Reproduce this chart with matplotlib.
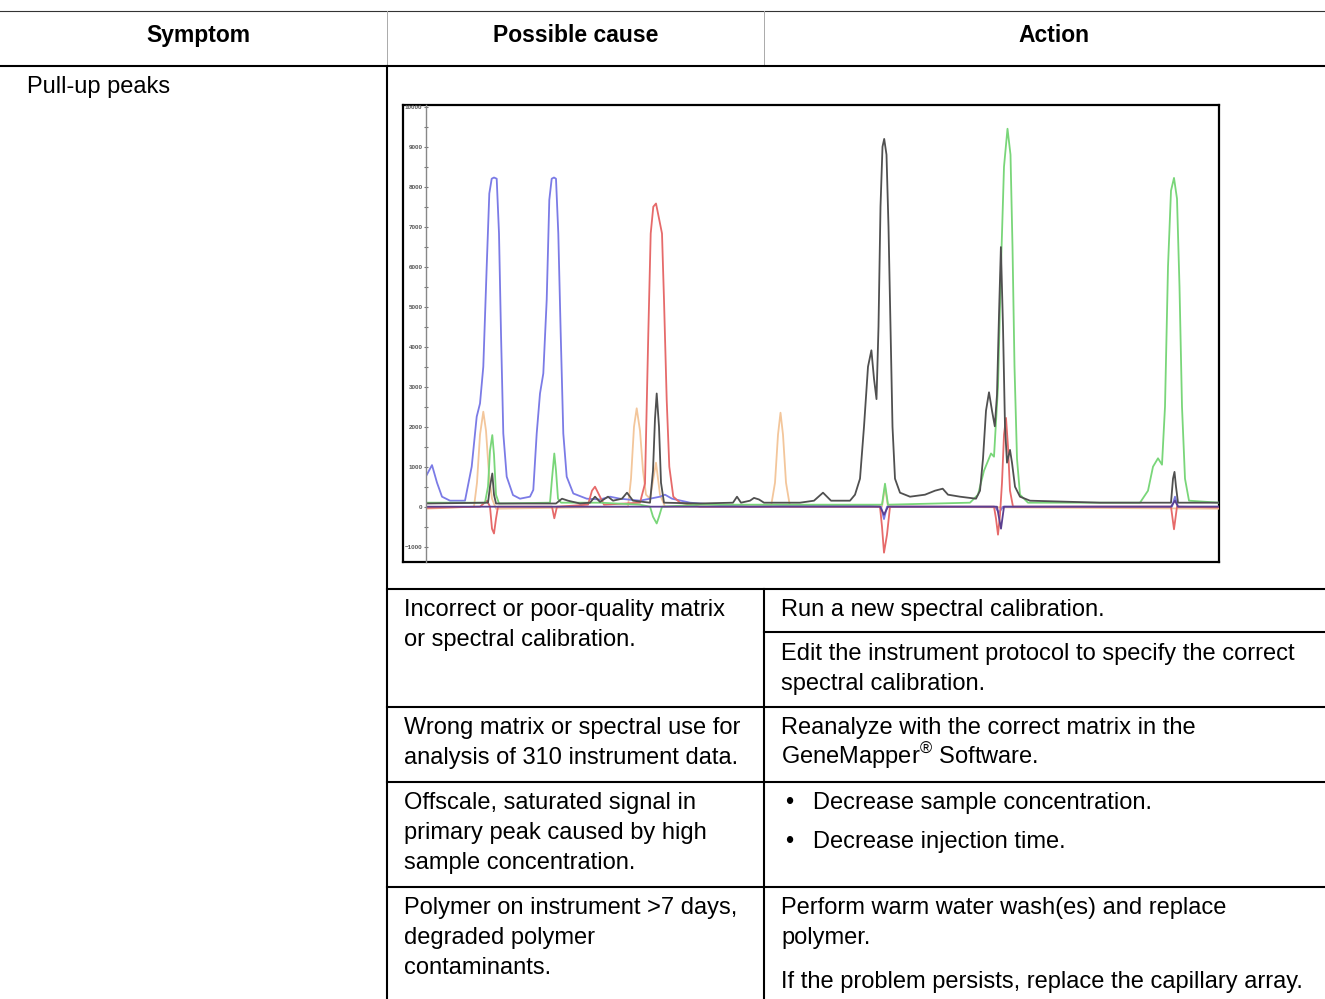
import numpy as np
import matplotlib
matplotlib.use("Agg")
import matplotlib.pyplot as plt
from matplotlib.ticker import MultipleLocator

plt.rcParams['font.family'] = ['Liberation Sans', 'DejaVu Sans']
plt.rcParams['mathtext.fontset'] = 'custom'
plt.rcParams['mathtext.rm'] = 'Liberation Sans'

# ---- table text ----
headers = ["Symptom", "Possible cause", "Action"]
symptom = "Pull-up peaks"
causes = [
    ["Incorrect or poor-quality matrix", "or spectral calibration."],
    ["Wrong matrix or spectral use for", "analysis of 310 instrument data."],
    ["Offscale, saturated signal in", "primary peak caused by high", "sample concentration."],
    ["Polymer on instrument >7 days,", "degraded polymer", "contaminants."],
]
actions = [
    ["Run a new spectral calibration."],
    ["Edit the instrument protocol to specify the correct", "spectral calibration."],
    ["Reanalyze with the correct matrix in the", r"GeneMapper$^{®}$ Software."],
    ["Decrease sample concentration.", "Decrease injection time."],
    ["Perform warm water wash(es) and replace", "polymer."],
    ["If the problem persists, replace the capillary array."],
]

# ---- electropherogram traces (scan, RFU) ----
blue_trace = [(426, 760), (432, 1040), (437, 600), (442, 250), (450, 150), (465, 150),
              (471.7, 1000), (476.7, 2250), (480, 2580), (483.3, 3500), (486.7, 6000),
              (489.3, 7830), (491.7, 8200), (494, 8230), (496.7, 8200), (499, 6830),
              (501, 4330), (503.3, 1830), (506.7, 750), (513, 290), (520, 200), (530, 250),
              (533.3, 420), (536.7, 1830), (540, 2830), (543.3, 3330), (546.7, 5170),
              (549.3, 7670), (551.7, 8200), (554, 8230), (556, 8200), (558.3, 6830),
              (560.7, 4330), (563.3, 1830), (566.7, 750), (573.3, 330), (586.7, 200),
              (600, 180), (610, 250), (620, 200), (640, 150), (660, 250), (665, 300),
              (672, 200), (690, 100), (720, 40), (750, 0), (800, 30), (870, 20), (881, 0),
              (884, -310), (887, 0), (995, 0), (999, -150), (1003, 0), (1100, 0),
              (1172, 0), (1175, 250), (1178, 0), (1219, 0)]
red_trace = [(426, -30), (480, 0), (487, 150), (490, 0), (492, -550), (494, -670),
             (496, -300), (498, 0), (552, 0), (554.3, -290), (557, 0), (588, 50),
             (592, 400), (595, 500), (599, 300), (604, 50), (640, 100), (645, 580),
             (648.3, 4330), (650.7, 6830), (653.3, 7500), (656, 7580), (659.3, 7170),
             (662, 6830), (664, 5170), (666.7, 2670), (669.3, 1000), (673.3, 250),
             (680, 100), (700, 0), (880, 0), (882, -500), (884, -1150), (887, -700),
             (890, 0), (994, 0), (996, -300), (998, -700), (1000, -200), (1002, 600),
             (1004, 1800), (1006, 2220), (1008, 1500), (1010, 400), (1013, 0),
             (1171, 0), (1174, -565), (1177, 0), (1219, -20)]
green_trace = [(426, 100), (485, 100), (488, 500), (490, 1400), (492.3, 1790), (494, 1300),
               (496, 300), (499, 80), (550, 100), (552, 700), (554.3, 1330), (556, 900),
               (558, 200), (561, 100), (600, 100), (640, 50), (650, 0), (653, -250),
               (656.7, -420), (659, -250), (662, 0), (700, 50), (882, 50), (885, 575),
               (888, 50), (970, 100), (978, 300), (984, 900), (991, 1330), (994, 1250),
               (998, 3000), (1001, 6000), (1004, 8500), (1007.5, 9450), (1010.5, 8800),
               (1012.5, 6500), (1014.5, 3500), (1017, 1200), (1020, 300), (1028, 100),
               (1140, 100), (1148, 400), (1153, 1000), (1158, 1210), (1162, 1050),
               (1165, 2500), (1168, 6000), (1171, 7900), (1174, 8220), (1177, 7700),
               (1179.5, 5500), (1182, 2500), (1185, 700), (1189, 150), (1219, 100)]
orange_trace = [(426, -50), (474, 0), (477, 600), (480, 1800), (483.3, 2375), (486, 1900),
                (489, 800), (492, 200), (496, -50), (628, 0), (631, 700), (634, 2000),
                (636.7, 2460), (640, 1900), (643, 900), (646, 300), (650, 200),
                (656, 1100), (660, 300), (665, 0), (771, 0), (775, 600), (778, 1800),
                (780.5, 2350), (783, 1800), (786, 600), (790, 0), (882, 0), (885, 500),
                (888, 0), (1219, -50)]
black_trace = [(426, 80), (488, 100), (490, 500), (492.3, 830), (494, 300), (496, 80),
               (556, 80), (562, 200), (568, 150), (580, 80), (590, 100), (595, 250),
               (600, 120), (608, 250), (613, 150), (622, 200), (627, 350), (633, 150),
               (650, 100), (653, 900), (655, 2200), (656.7, 2830), (659, 2000), (661, 600),
               (664, 100), (700, 80), (733, 100), (737, 250), (741, 100), (750, 150),
               (754, 220), (759, 180), (764, 100), (800, 100), (814, 150), (823, 350),
               (831, 150), (850, 150), (855, 300), (860, 700), (864, 2000), (868, 3500),
               (871.4, 3910), (874, 3200), (876.5, 2690), (878.5, 4500), (880.5, 7500),
               (882.5, 9000), (884.2, 9195), (886.5, 8800), (888.5, 7000), (890.5, 4500),
               (892.5, 2000), (895, 700), (900, 350), (910, 250), (925, 300), (935, 400),
               (942.7, 450), (948, 300), (960, 250), (976, 200), (980, 400), (983, 1200),
               (986, 2400), (989, 2860), (992, 2400), (994.8, 2010), (997, 2800),
               (999, 4800), (1000.9, 6490), (1003, 4500), (1005, 2000), (1007, 1100),
               (1010, 1420), (1012, 1100), (1015, 500), (1020, 250), (1030, 150),
               (1100, 100), (1171, 100), (1173, 700), (1174.5, 870), (1176, 500),
               (1178, 100), (1219, 100)]
purple_trace = [(426, 0), (880, 0), (884, -200), (888, 0), (997, 0), (1001, -550),
                (1004, 0), (1171, 0), (1175, 150), (1178, 0), (1219, 0)]

traces = [
    (orange_trace, '#f3c69b'),
    (blue_trace, '#7b7be6'),
    (red_trace, '#e66a6a'),
    (green_trace, '#79d679'),
    (purple_trace, '#5b3f8f'),
    (black_trace, '#505050'),
]

W, H = 1325, 999
fig = plt.figure(figsize=(W / 100, H / 100), dpi=100)

# table drawn in pixel coordinates
tab = fig.add_axes([0, 0, 1, 1])
tab.set_xlim(0, W)
tab.set_ylim(H, 0)
tab.axis('off')

thin = dict(color='#333333', lw=0.8)
thick = dict(color='black', lw=1.5)
tab.plot([0, W], [11, 11], **thin)
tab.plot([387, 387], [11, 66], color='#aaaaaa', lw=0.7)
tab.plot([764, 764], [11, 66], color='#aaaaaa', lw=0.7)
tab.plot([0, W], [66, 66], **thick)
tab.plot([387, 387], [66, H], **thick)
tab.plot([764, 764], [589, H], **thick)
for yy in [589, 707, 782, 887]:
    tab.plot([387, W], [yy, yy], **thick)
tab.plot([764, W], [632, 632], **thick)

fs = 17
tab.text(198, 42, headers[0], ha='center', va='baseline', fontsize=16.5, fontweight='bold')
tab.text(576, 42, headers[1], ha='center', va='baseline', fontsize=16.5, fontweight='bold')
tab.text(1054, 42, headers[2], ha='center', va='baseline', fontsize=16.5, fontweight='bold')
tab.text(27, 93, symptom, va='baseline', fontsize=fs)

cause_y = [616, 734, 809, 914]
for lines, y0 in zip(causes, cause_y):
    for i, s in enumerate(lines):
        tab.text(404, y0 + 30 * i, s, va='baseline', fontsize=fs)

action_y = [616, 660, 734, 809, 914, 988]
for k, (lines, y0) in enumerate(zip(actions, action_y)):
    if k == 3:
        for i, s in enumerate(lines):
            tab.text(785, y0 + 39 * i, "\u2022", va='baseline', fontsize=fs)
            tab.text(813, y0 + 39 * i, s, va='baseline', fontsize=fs)
        continue
    for i, s in enumerate(lines):
        tab.text(781, y0 + 30 * i, s, va='baseline', fontsize=fs)

# chart frame
x0, x1, ytop, ybot = 403, 1219, 105, 562
frame = fig.add_axes([x0 / W, 1 - ybot / H, (x1 - x0) / W, (ybot - ytop) / H])
frame.set_xticks([])
frame.set_yticks([])
for sp in frame.spines.values():
    sp.set_linewidth(1.6)
    sp.set_color('black')

ax = fig.add_axes([426 / W, 1 - ybot / H, (x1 - 426) / W, (ybot - ytop) / H])
ax.patch.set_alpha(0)
for side in ['top', 'right', 'bottom']:
    ax.spines[side].set_visible(False)
ax.spines['left'].set_color('#888888')
ax.spines['left'].set_linewidth(1.0)
for tr, col in traces:
    arr = np.array(tr)
    ax.plot(arr[:, 0], arr[:, 1], color=col, lw=1.3, solid_joinstyle='round')
ax.set_xlim(426, 1219)
ax.set_ylim(-1383, 10043)
ax.set_xticks([])
ax.yaxis.set_major_locator(MultipleLocator(1000))
ax.yaxis.set_minor_locator(MultipleLocator(500))
ax.tick_params(axis='y', which='both', direction='inout', length=3, width=0.8,
               color='#777777', labelsize=4.5, labelcolor='#555555', pad=1)
for lab in ax.get_yticklabels():
    lab.set_fontweight('bold')

fig.savefig("out.png", dpi=100)
